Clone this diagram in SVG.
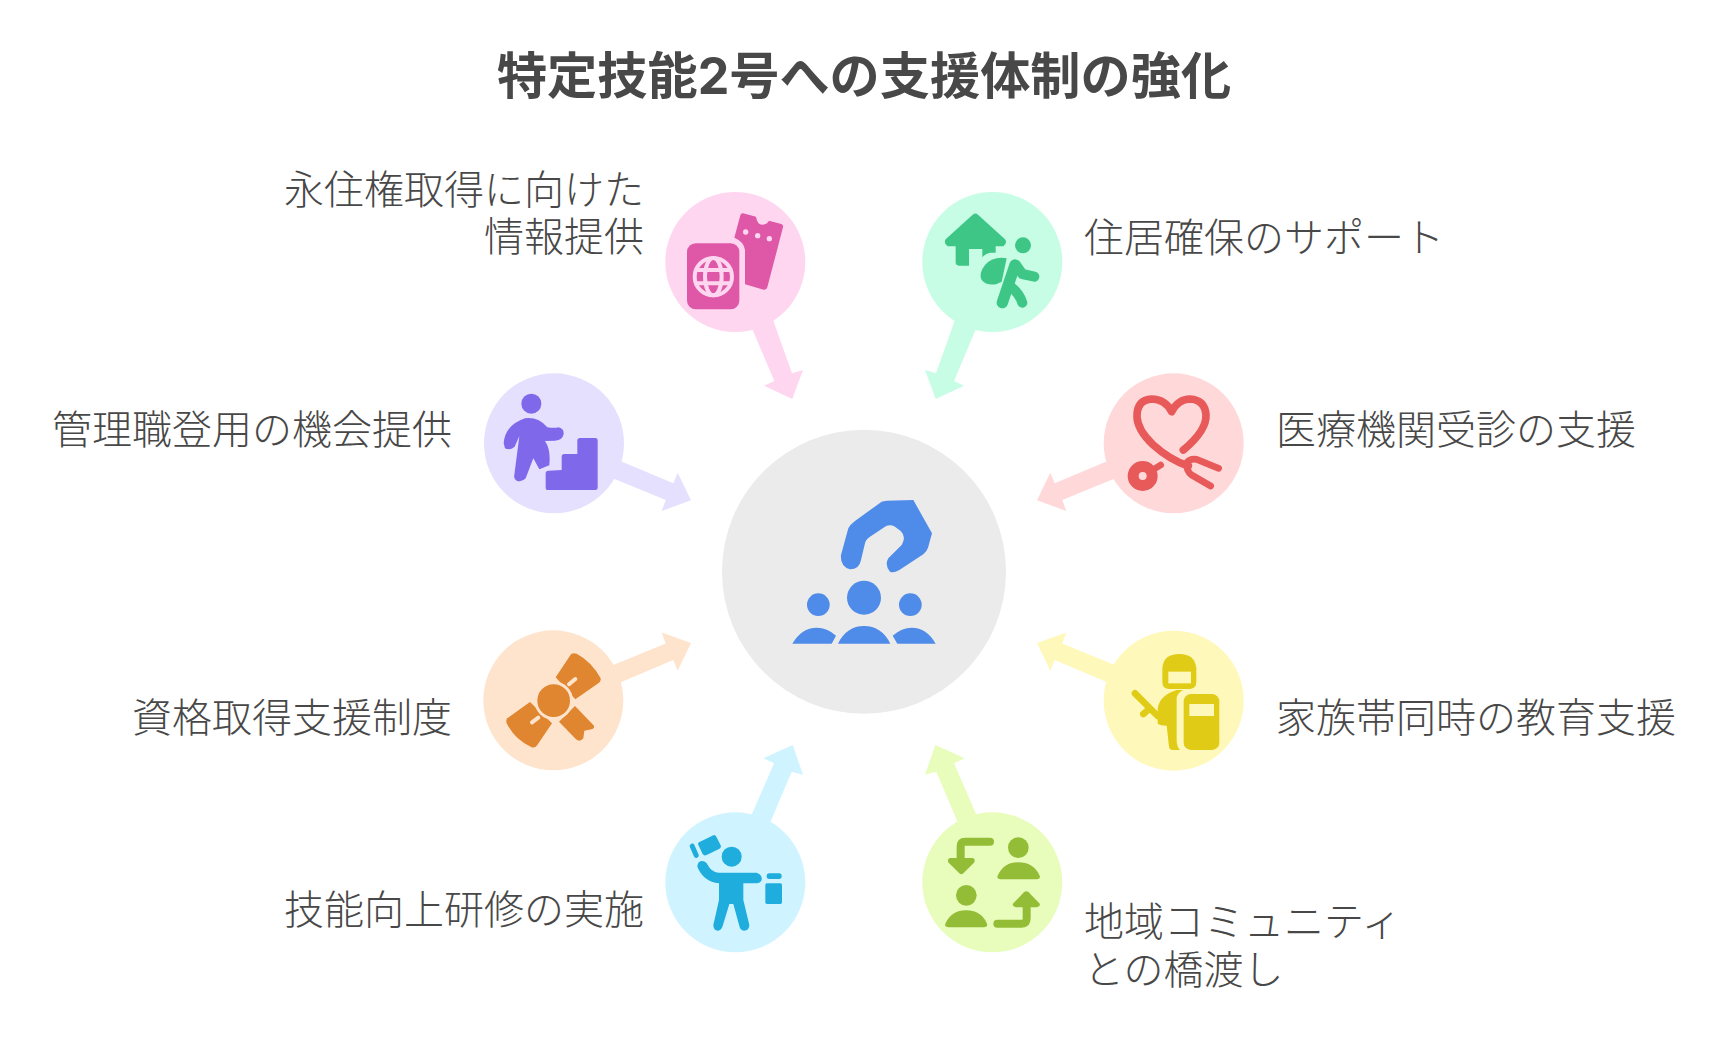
<svg xmlns="http://www.w3.org/2000/svg" width="1728" height="1052" viewBox="0 0 1728 1052">
<style>
text{font-family:Inter,"Noto Sans CJK JP","Noto Sans",sans-serif;fill:#484848;font-size:40px;font-weight:300}
.t{font-size:50.2px;font-weight:700;text-anchor:middle}
.e{text-anchor:end}
</style>
<rect width="1728" height="1052" fill="#fff"/>
<text id="title" class="t" x="864" y="94">特定技能2号への支援体制の強化</text>
<g id="connectors">
<polygon fill="#FFD6F0" points="745,312 767,303 792,373.3 803,370 792.3,399 764,385.7 774.3,381"/>
<polygon fill="#C7FDE5" points="983,312 961,303 936,373.3 925,370 935.7,399 964,385.7 954,381"/>
<polygon fill="#E6E0FF" points="608.5,456 673.3,483.3 677.7,472.7 691,500.3 661.7,511 665.7,500 600.5,473.2"/>
<polygon fill="#FFD9D9" points="1119.5,456 1054.7,483.3 1050.3,472.7 1037,500.3 1066.3,511 1062.3,500 1127.5,473.2"/>
<polygon fill="#FFE4CD" points="608.5,687.4 673.3,660.1 677.7,670.7 691,643.1 661.7,632.4 665.7,643.4 600.5,670.2"/>
<polygon fill="#FFF8BB" points="1119.5,687.4 1054.7,660.1 1050.3,670.7 1037,643.1 1066.3,632.4 1062.3,643.4 1127.5,670.2"/>
<polygon fill="#D0F4FF" points="745,830 767,830 791.7,771.7 803,774.7 792.7,745 763.3,758.3 774,763.3"/>
<polygon fill="#E8FDBB" points="983,830 961,830 936.3,771.7 925,774.7 935.3,745 964.7,758.3 954,763.3"/>
</g>
<g id="center">
<circle cx="864" cy="571.7" r="142" fill="#EBEBEB"/>
<g transform="translate(700,420) scale(.33333)" fill="#4F8BE8">
<path d="M640,240L560,242Q550,243 545,245L465,303Q450,314 445,325L423,405Q420,440 450,448Q478,448 483,420L495,370Q497,358 510,350L555,320Q570,312 585,320L602,333Q620,350 605,375L565,415Q553,435 570,455Q580,460 598,450L670,403Q680,395 684,383L696,340Z"/>
<circle cx="492" cy="533" r="51"/><circle cx="355" cy="554" r="34"/><circle cx="631" cy="554" r="34"/>
<path d="M414,671Q440,618 492,618Q545,618 571,671Z"/>
<path d="M277,671Q305,623 350,623Q382,623 408,647L395,671Z"/>
<path d="M592,671L578,647Q605,623 635,623Q680,623 707,671Z"/>
</g>
</g>
<g id="pink">
<circle cx="735.3" cy="262" r="70" fill="#FFD6F0"/>
<g transform="translate(620,150) scale(.33333)">
<path fill="#DF58A8" d="M369,190L408,200Q412,225 428,224Q442,222 447,212L484,222Q491,225 489,232L442,412Q439,421 431,419L375,403L375,300Q372,275 343,263L361,196Q363,189 369,190Z"/>
<g fill="#FFD6F0"><circle cx="377" cy="246" r="8"/><circle cx="413" cy="257" r="8"/><circle cx="448" cy="266" r="8"/></g>
<rect x="201" y="280" width="157" height="198" rx="26" fill="#DF58A8"/>
<g fill="none" stroke="#FFD6F0" stroke-width="12"><circle cx="280" cy="380" r="56"/><ellipse cx="280" cy="380" rx="25" ry="56"/><path d="M226,360H334M226,400H334"/></g>
</g>
</g>
<g id="mint">
<circle cx="992.3" cy="262" r="70" fill="#C7FDE5"/>
<g transform="translate(620,150) scale(.33333)" fill="#3DC685">
<path d="M1058,194Q1066,187 1074,194L1155,268Q1163,278 1150,289L1127,289L1127,308L1110,308Q1095,312 1087,322L1087,297L1047,297L1047,347L1017,347Q1007,347 1007,337L1007,289L983,289Q970,280 977,268Z"/>
<circle cx="1209" cy="286" r="24"/>
<path d="M1160,325Q1120,318 1095,345Q1075,370 1085,390Q1100,408 1130,402L1145,395Z"/>
<g fill="none" stroke="#3DC685" stroke-linecap="round" stroke-linejoin="round"><path stroke-width="34" d="M1185,345L1147,458"/><path stroke-width="30" d="M1188,345L1207,372L1243,380"/><path stroke-width="30" d="M1172,410Q1198,430 1207,458"/></g>
</g>
</g>
<g id="purple">
<circle cx="554" cy="443.3" r="70" fill="#E6E0FF"/>
<g transform="translate(470,360) scale(.33333)" fill="#8068EB">
<circle cx="184" cy="131" r="30"/>
<path d="M101,250Q105,195 165,175Q205,170 232,202Q255,205 265,202Q282,205 281,222Q278,240 255,242L225,243Q240,265 239,300L238,316L208,328L190,295L167,355Q155,368 140,362Q130,355 133,345L148,228L134,260Q120,272 105,265Z"/>
<path d="M227,340Q227,332 235,332L275,330L275,290Q275,282 283,282L322,282L322,242Q322,234 330,234L376,234Q383,234 383,241L383,383Q383,390 376,390L232,390Q227,390 227,384Z"/>
</g>
</g>
<g id="orange">
<circle cx="553.3" cy="700.3" r="70" fill="#FFE4CD"/>
<g transform="translate(470,620) scale(.33333)" fill="#E08530">
<path d="M257,172L303,103Q310,97 320,101Q365,125 392,175Q393,185 385,190L316,238Z"/>
<path d="M180,246L112,295Q107,300 110,310Q135,360 185,382Q195,385 202,375L246,310Z"/>
<path d="M315,258L372,317Q374,323 368,327L343,332L340,355Q330,368 318,358L267,305Z"/>
<circle cx="251" cy="242" r="58" fill="#FFE4CD"/>
<circle cx="251" cy="242" r="49"/>
<g stroke="#FFE4CD" stroke-width="12" stroke-linecap="round"><path d="M297,193L316,177M205,293L186,307"/></g>
</g>
</g>
<g id="red">
<circle cx="1173.7" cy="443.3" r="70" fill="#FFD9D9"/>
<g transform="translate(1020,360) scale(.33333)">
<g fill="none" stroke="#E85A5A" stroke-linecap="round" stroke-linejoin="round">
<path stroke-width="23" d="M490,270Q560,212 558,165Q555,120 510,117Q475,117 455,155Q435,117 395,117Q350,120 351,170Q352,210 400,255Q450,300 505,318"/>
<path stroke-width="20" d="M596,325L530,298Q510,295 500,308Q498,332 515,345L572,378"/>
<path stroke-width="20" d="M398,330L422,315"/>
</g>
<circle cx="368" cy="348" r="45" fill="#E85A5A"/>
<circle cx="368" cy="348" r="12" fill="#FFD9D9"/>
</g>
</g>
<g id="yellow">
<circle cx="1173.7" cy="700.7" r="70" fill="#FFF8BB"/>
<g transform="translate(1020,620) scale(.33333)" fill="#E0CC17">
<path d="M427,145Q430,102 478,102Q525,102 529,145L529,185Q529,205 510,207L445,207Q427,205 427,185Z"/>
<rect x="445" y="155" width="68" height="35" fill="#FFF8BB"/>
<path d="M470,210Q420,225 413,265L413,310Q416,317 440,317L447,380Q448,390 460,390L480,390Q470,380 470,360L470,235Q472,218 490,210Z"/>
<rect x="491" y="222" width="107" height="168" rx="22"/>
<rect x="508" y="252" width="74" height="36" fill="#FFF8BB"/>
<path fill="none" stroke="#E0CC17" stroke-width="20" stroke-linecap="round" d="M345,220L413,288M370,282L390,265"/>
</g>
</g>
<g id="blue">
<circle cx="735.3" cy="882.3" r="70" fill="#D0F4FF"/>
<g transform="translate(650,740) scale(.33333)" fill="#1FADDD">
<circle cx="245" cy="350" r="30"/>
<path d="M155,363Q168,364 172,373Q185,398 205,398L320,398Q338,405 335,420Q330,430 320,430L280,430L280,480L298,555Q298,572 282,572Q270,570 268,558L250,492L238,492L218,558Q214,572 202,572Q190,570 190,555L207,480L207,430Q160,425 142,380Q143,364 155,363Z"/>
<path d="M150,305L187,287Q195,282 199,290L212,316Q215,323 207,327L170,345Q162,349 158,342L145,315Q142,308 150,305Z"/>
<rect x="125" y="310" width="15" height="45" rx="7" transform="rotate(-24 132 332)"/>
<rect x="350" y="400" width="45" height="17" rx="8"/>
<rect x="346" y="430" width="50" height="62" rx="5"/>
</g>
</g>
<g id="green">
<circle cx="992.3" cy="882.3" r="70" fill="#E8FDBB"/>
<g transform="translate(650,740) scale(.33333)" fill="#94BD37">
<path fill="none" stroke="#94BD37" stroke-width="24" stroke-linecap="round" d="M1020,305L945,305Q932,305 932,320L932,370"/>
<path d="M900,354L968,354Q978,358 972,368L940,400Q934,405 928,400L896,368Q890,358 900,354Z"/>
<circle cx="1105" cy="323" r="31"/>
<path d="M1052,418Q1038,416 1044,405Q1062,367 1105,367Q1150,367 1168,405Q1174,416 1160,418Z"/>
<circle cx="949" cy="466" r="31"/>
<path d="M895,562Q881,560 887,549Q905,511 948,511Q993,511 1010,549Q1016,560 1002,562Z"/>
<path fill="none" stroke="#94BD37" stroke-width="24" stroke-linecap="round" d="M1042,551L1115,551Q1130,551 1130,535L1130,495"/>
<path d="M1099,502L1160,502Q1174,498 1168,490L1136,457Q1129,451 1122,457L1090,490Q1084,498 1099,502Z"/>
</g>
</g>
<g id="labels">
<text class="e" x="644" y="204">永住権取得に向けた</text>
<text class="e" x="644" y="251">情報提供</text>
<text x="1084" y="252">住居確保のサポート</text>
<text class="e" x="452" y="444">管理職登用の機会提供</text>
<text x="1276" y="444">医療機関受診の支援</text>
<text class="e" x="452" y="732">資格取得支援制度</text>
<text x="1276" y="732">家族帯同時の教育支援</text>
<text class="e" x="644" y="924">技能向上研修の実施</text>
<text x="1084" y="936">地域コミュニティ</text>
<text x="1084" y="984">との橋渡し</text>
</g>
</svg>
